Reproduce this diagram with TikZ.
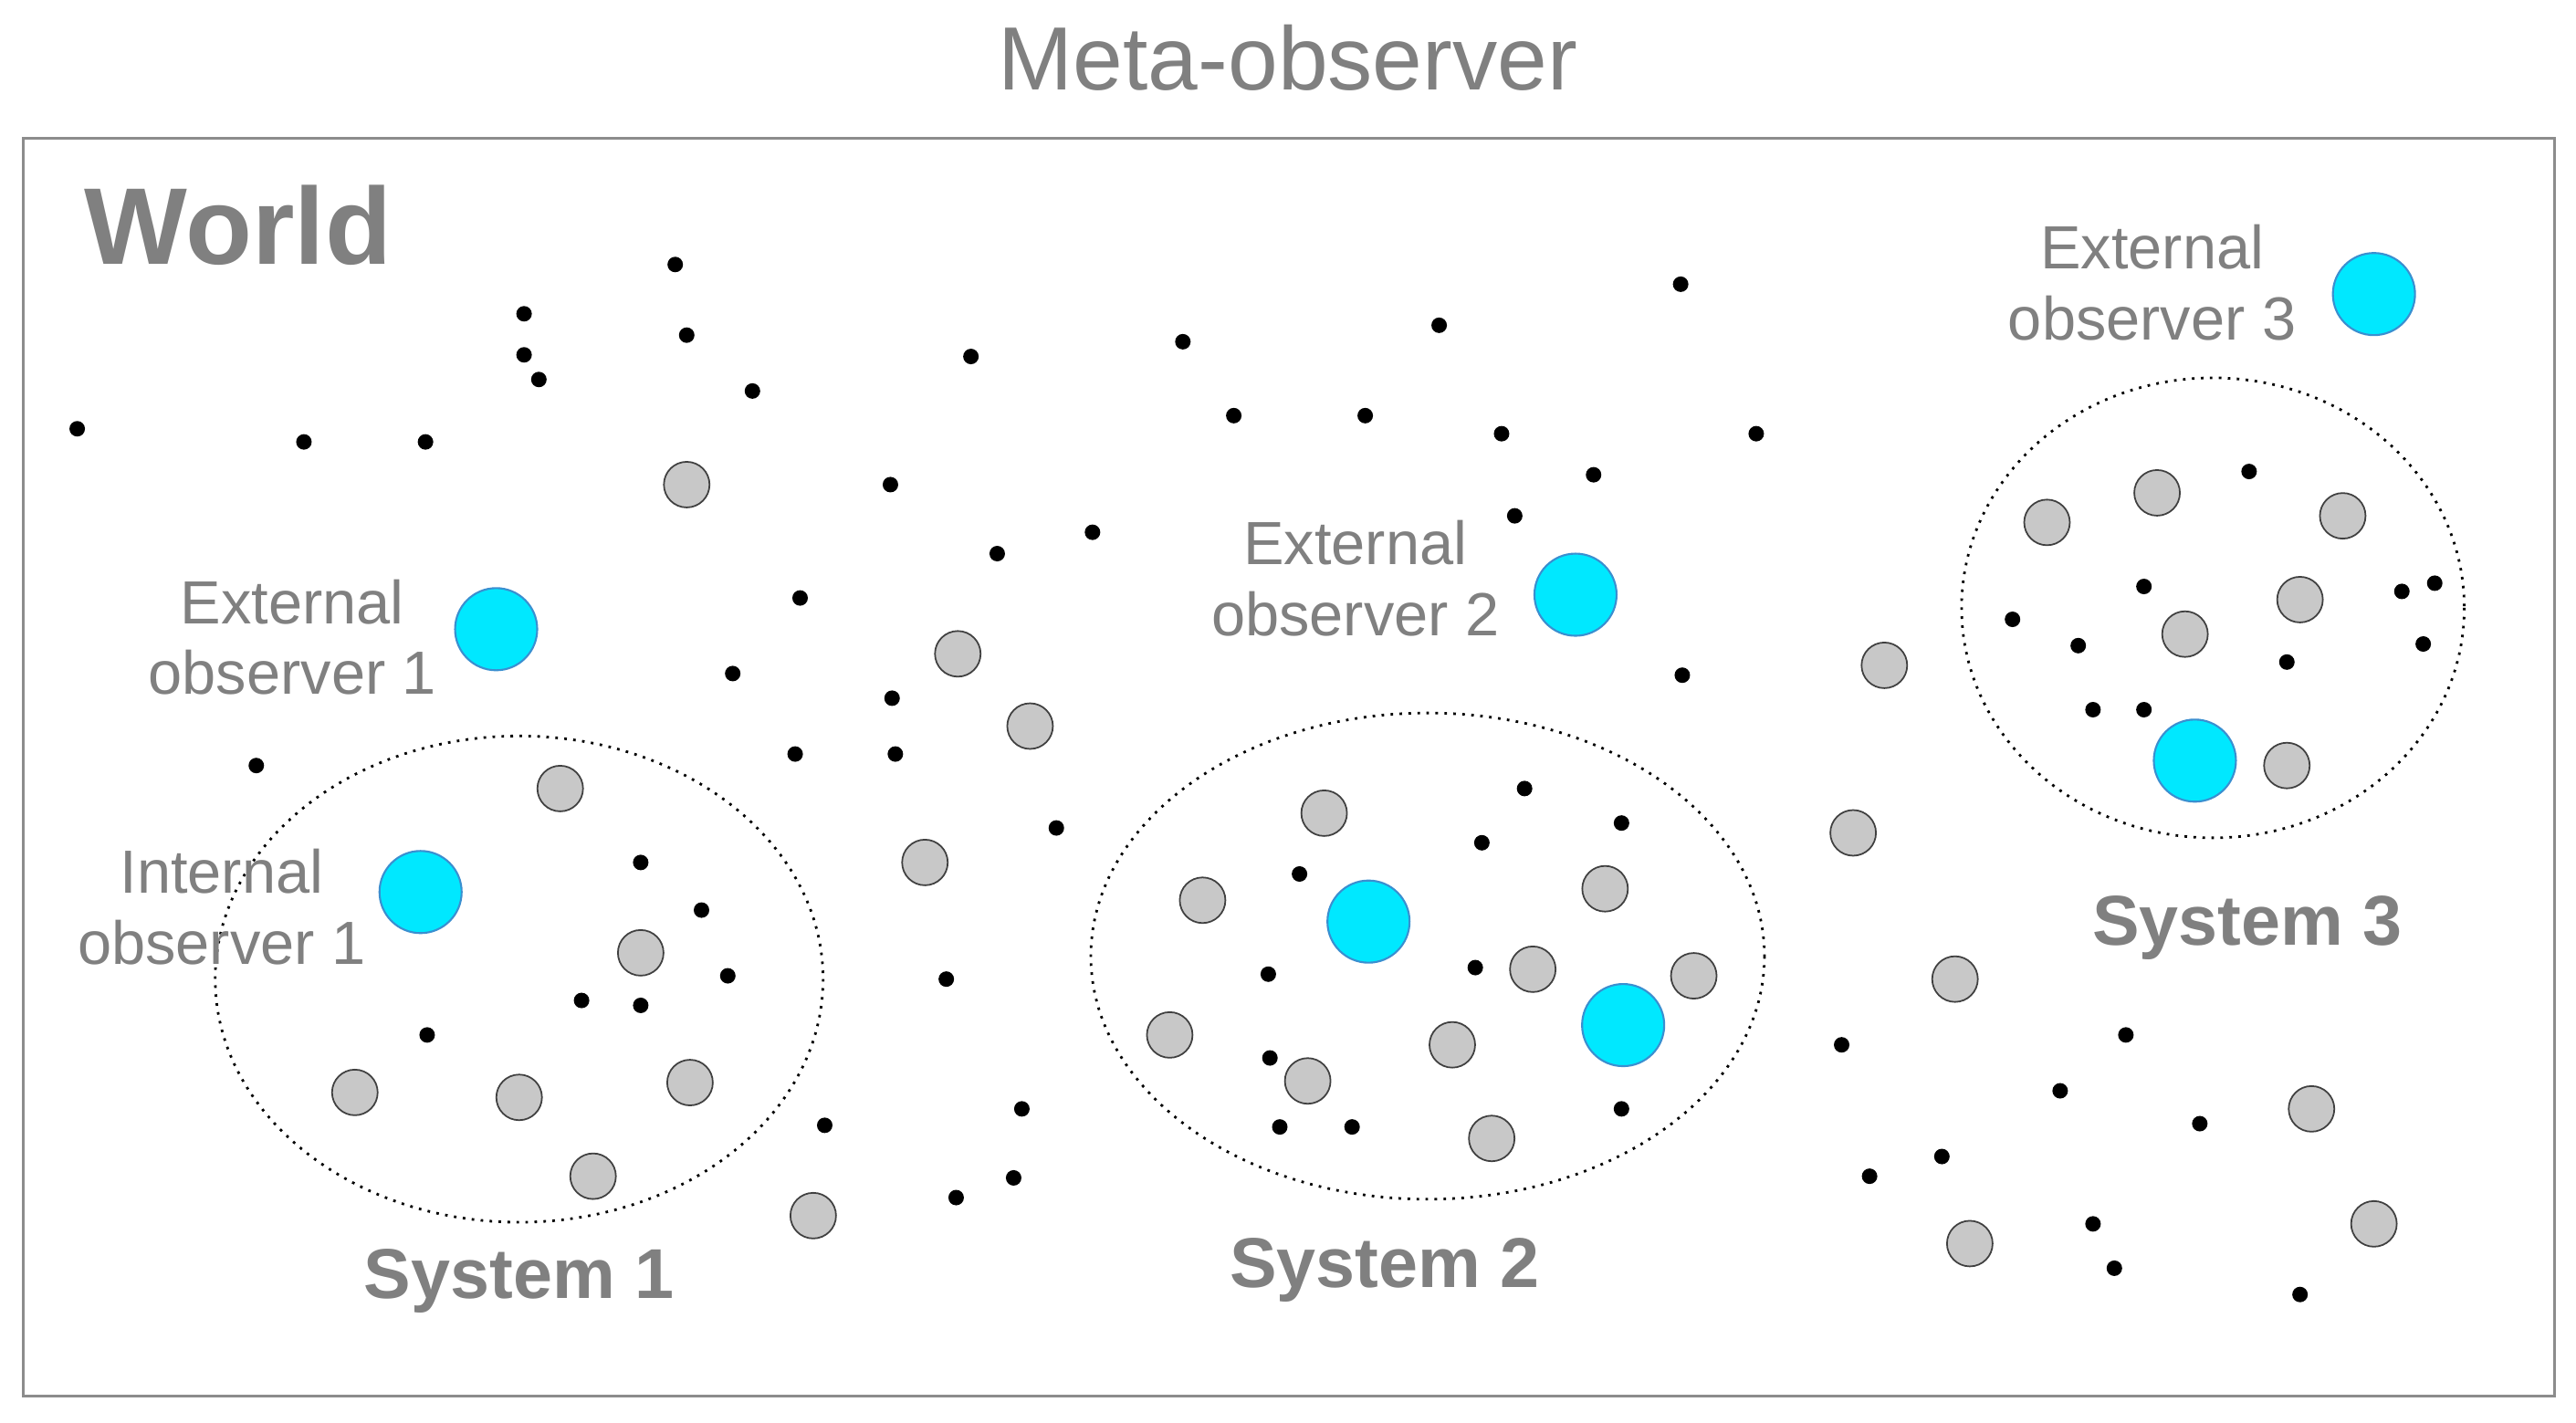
\documentclass[tikz,border=0pt]{standalone}
\usepackage{fontspec}
\setmainfont{Liberation Sans}
\definecolor{txtgray}{HTML}{808080}
\definecolor{obscyan}{HTML}{00E8FF}
\definecolor{obsedge}{HTML}{3A8FD0}
\definecolor{partgray}{HTML}{C8C8C8}
\tikzset{
  dot/.style={circle,fill=black,inner sep=0,minimum size=1.7mm},
  part/.style={circle,draw=black!75,fill=partgray,line width=0.5pt,inner sep=0,minimum size=5mm},
  obs/.style={circle,draw=obsedge,fill=obscyan,line width=0.6pt,inner sep=0,minimum size=9mm},
  lbl/.style={text=txtgray,font=\fontsize{19}{22}\selectfont,align=center},
  sys/.style={text=txtgray,font=\fontsize{22}{26}\selectfont\bfseries},
  bound/.style={draw,dotted,line width=0.8pt}
}
\begin{document}
\begin{tikzpicture}[x=0.18mm,y=-0.18mm]
    \useasboundingbox (0,0) rectangle (1568,866);
    \node[draw=black!45,line width=0.8pt,minimum width=1541*0.18mm,minimum height=766*0.18mm,inner sep=0](world) at (784.5,467) {};
    \node[text=txtgray,font=\fontsize{28}{32}\selectfont](meta) at (784,35) {Meta-observer};
    \node[text=txtgray,font=\fontsize{34}{38}\selectfont\bfseries](wlabel) at (145,137) {World};

    \draw[bound] (316,596) ellipse (185 and 148);
    \draw[bound] (869,582) ellipse (205 and 148);
    \draw[bound] (1347,370) ellipse (153 and 140);

    \node[sys](s1) at (316,780) {System 1};
    \node[sys](s2) at (843,773) {System 2};
    \node[sys](s3) at (1368,565) {System 3};

    \node[lbl](l1) at (178,388) {External\\observer 1};
    \node[lbl](l2) at (135,552) {Internal\\observer 1};
    \node[lbl](l3) at (825,352) {External\\observer 2};
    \node[lbl](l4) at (1310,172) {External\\observer 3};

    \foreach \x/\y [count=\i] in {47/261,185/269,259/269,319/191,319/216,328/231,411/161,418/204,
      458/238,591/217,720/208,876/198,1023/173,1069/264,751/253,831/253,914/264,970/289,922/314,
      542/295,607/337,665/324,487/364,446/410,543/425,545/459,484/459,156/466,643/504,390/525,
      427/554,443/594,354/609,390/612,260/630,576/596,502/685,622/675,617/717,582/729,1024/411,
      928/480,902/513,987/501,791/532,772/593,898/589,773/644,779/686,823/686,987/675,1121/636,
      1294/630,1254/664,1339/684,1138/716,1182/704,1274/745,1287/772,1400/788,1369/287,1305/357,
      1225/377,1265/393,1392/403,1462/360,1482/355,1475/392,1274/432,1305/432}
      \node[dot](d\i) at (\x,\y) {};

    \foreach \x/\y [count=\i] in {418/295,583/398,627/442,563/525,341/480,390/580,216/665,316/668,
      420/659,361/716,495/740,806/495,732/548,977/541,933/590,1031/594,712/630,796/658,884/636,
      908/693,1147/405,1128/507,1190/596,1407/675,1445/745,1199/757,1246/318,1313/300,1426/314,
      1400/365,1330/386,1392/466}
      \node[part](p\i) at (\x,\y) {};

    \foreach \x/\y [count=\i] in {302/383,256/543,833/561,988/624,959/362,1445/179,1336/463}
      \node[obs](o\i) at (\x,\y) {};
\end{tikzpicture}
\end{document}
